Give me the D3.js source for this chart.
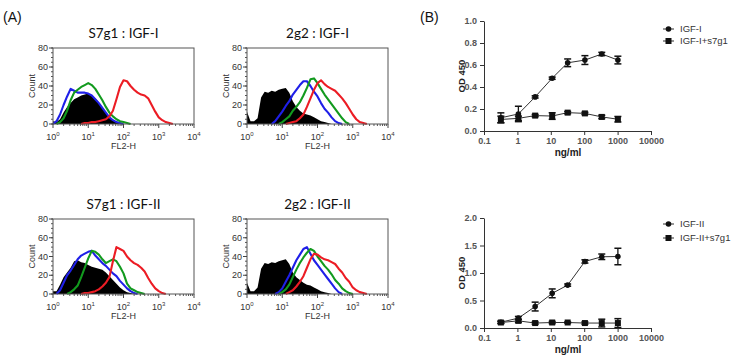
<!DOCTYPE html>
<html lang="en">
<head>
<meta charset="UTF-8">
<title>IGF binding: flow cytometry and ELISA</title>
<script src="https://d3js.org/d3.v7.min.js"></script>
<style>
  body { margin: 0; background: #fff; }
  svg { display: block; font-family: "Liberation Sans", Arial, sans-serif; }
</style>
</head>
<body>
<script>
// ---- histogram data: counts per log10(FL2-H) bin ----
const binLog = [0,0.1,0.2,0.3,0.4,0.5,0.6,0.7,0.8,0.9,1,1.1,1.2,1.3,1.4,1.5,1.6,1.7,1.8,1.9,
                2,2.1,2.2,2.3,2.4,2.5,2.6,2.7,2.8,2.9,3,3.1,3.2,3.3,3.4,3.5];

const s7g1I_black = [3,2,5,12,18,22,26,28,30,31, 32,30,27,23,18,12,7,4,2,1, 0,0,0,0,0,0,0,0,0,0, 0,0,0,0,0,0];
const s7g1I_blue  = [0,3,10,20,29,37,35,33,33,33, 32,30,26,22,17,12,7,4,2,1, 0,0,0,0,0,0,0,0,0,0, 0,0,0,0,0,0];
const s7g1I_green = [0,0,2,6,14,25,33,36,39,41, 43,41,37,31,25,18,12,8,5,3, 2,1,0,0,0,0,0,0,0,0, 0,0,0,0,0,0];
const s7g1I_red   = [0,0,0,0,0,0,0,0,0,1, 1,2,2,3,4,5,8,14,26,39, 46,45,40,36,33,31,30,27,20,13, 7,4,2,1,0,0];

const g2I_black = [13,3,3,6,28,34,33,35,34,36, 37,38,33,24,18,14,11,10,9,7, 5,3,2,1,0,0,0,0,0,0, 0,0,0,0,0,0];
const g2I_blue  = [0,0,0,0,0,0,0,0,3,8, 13,19,24,31,36,41,45,45,40,34, 29,22,16,12,7,3,1,0,0,0, 0,0,0,0,0,0];
const g2I_green = [0,0,0,0,0,0,0,0,0,0, 2,5,8,14,18,23,30,38,47,48, 43,37,31,26,21,16,11,6,2,0, 0,0,0,0,0,0];
const g2I_red   = [0,0,0,0,0,0,0,0,0,0, 0,0,1,2,3,6,10,18,27,36, 43,46,42,39,37,35,31,27,22,16, 10,5,2,1,0,0];

const s7g1II_black = [3,3,10,18,23,28,35,36,34,33, 31,29,28,27,26,23,19,15,11,7, 4,2,1,0,0,0,0,0,0,0, 0,0,0,0,0,0];
const s7g1II_blue  = [0,0,4,12,20,25,31,37,41,43, 45,46,41,37,33,30,26,22,19,14, 10,6,3,1,0,0,0,0,0,0, 0,0,0,0,0,0];
const s7g1II_green = [0,0,0,0,0,2,5,9,18,28, 38,46,45,42,37,33,35,37,35,29, 22,11,6,4,2,1,0,0,0,0, 0,0,0,0,0,0];
const s7g1II_red   = [0,0,0,0,0,0,0,0,0,1, 1,2,3,5,8,12,18,35,50,48, 46,40,36,33,31,28,24,17,11,6, 3,1,0,0,0,0];

const g2II_black = [12,3,3,7,27,33,32,34,33,35, 36,37,32,23,18,15,12,10,9,7, 5,3,2,1,0,0,0,0,0,0, 0,0,0,0,0,0];
const g2II_blue  = [0,0,0,0,0,0,0,0,0,2, 6,13,20,28,36,42,48,50,43,36, 31,26,21,16,11,6,2,0,0,0, 0,0,0,0,0,0];
const g2II_green = [0,0,0,0,0,0,0,0,0,0, 2,5,10,18,26,33,39,44,48,46, 40,35,30,26,21,15,11,6,3,1, 0,0,0,0,0,0];
const g2II_red   = [0,0,0,0,0,0,0,0,0,0, 0,0,2,4,8,13,19,28,37,43, 42,39,37,36,34,32,27,23,17,13, 7,4,2,1,0,0];

const histTitles = ["S7g1 : IGF-I", "2g2 : IGF-I", "S7g1 : IGF-II", "2g2 : IGF-II"];
const countTicks = [0, 20, 40, 60, 80];
const flTicks = [1, 10, 100, 1000, 10000];

// ---- ELISA data (panel B) ----
const doses = [0.32, 1.07, 3.4, 11, 32, 105, 336, 1020];
const igf1Mean   = [0.12, 0.155, 0.31, 0.48, 0.62, 0.645, 0.70, 0.645];
const igf1Err    = [0.045, 0.07, 0.01, 0.01, 0.035, 0.04, 0.015, 0.035];
const igf1s7Mean = [0.105, 0.115, 0.14, 0.136, 0.167, 0.16, 0.128, 0.107];
const igf1s7Err  = [0.03, 0.02, 0.01, 0.03, 0.01, 0.01, 0.015, 0.025];
const igf2Mean   = [0.105, 0.18, 0.39, 0.63, 0.78, 1.21, 1.295, 1.30];
const igf2Err    = [0.02, 0.03, 0.08, 0.08, 0.02, 0.03, 0.05, 0.15];
const igf2s7Mean = [0.10, 0.13, 0.09, 0.10, 0.10, 0.09, 0.09, 0.09];
const igf2s7Err  = [0.02, 0.03, 0.02, 0.02, 0.01, 0.02, 0.07, 0.08];
const doseTicks = [0.1, 1, 10, 100, 1000, 10000];

const width = 731, height = 358;
const svg = d3.select("body").append("svg")
    .attr("width", width)
    .attr("height", height);

const histPanels = [
    {title: histTitles[0], left: 53,  right: 194, top: 48,  bottom: 124, black: s7g1I_black,  blue: s7g1I_blue,  green: s7g1I_green,  red: s7g1I_red},
    {title: histTitles[1], left: 247, right: 388, top: 48,  bottom: 124, black: g2I_black,    blue: g2I_blue,    green: g2I_green,    red: g2I_red},
    {title: histTitles[2], left: 53,  right: 194, top: 219, bottom: 294, black: s7g1II_black, blue: s7g1II_blue, green: s7g1II_green, red: s7g1II_red},
    {title: histTitles[3], left: 247, right: 388, top: 219, bottom: 294, black: g2II_black,   blue: g2II_blue,   green: g2II_green,   red: g2II_red}
];

function drawHist(p) {
    const x = d3.scaleLog().domain([1, 10000]).range([p.left, p.right]);
    const y = d3.scaleLinear().domain([0, 80]).range([p.bottom, p.top]);
    const g = svg.append("g");
    const bx = i => x(Math.pow(10, binLog[i]));

    g.append("path")
        .datum(p.black)
        .attr("fill", "#000")
        .attr("d", d3.area().x((d, i) => bx(i)).y0(y(0)).y1(d => y(d)));

    const line = d3.line().x(d => bx(d.i)).y(d => y(d.v));
    [[p.blue, "#1f1fe8"], [p.green, "#129a1e"], [p.red, "#ec1c24"]].forEach(([vals, col]) => {
        // only the part of the curve that rises off the baseline
        let first = vals.findIndex(v => v > 0), last = vals.length - 1;
        while (vals[last] === 0) last--;
        const pts = vals.map((v, i) => ({i, v})).slice(Math.max(0, first - 1), last + 2);
        g.append("path")
            .datum(pts)
            .attr("fill", "none")
            .attr("stroke", col)
            .attr("stroke-width", 2.1)
            .attr("stroke-linejoin", "round")
            .attr("d", line);
    });

    // frame
    g.append("rect")
        .attr("x", p.left).attr("y", p.top)
        .attr("width", p.right - p.left).attr("height", p.bottom - p.top)
        .attr("fill", "none").attr("stroke", "#555").attr("stroke-width", 1);

    // y ticks
    const yMinor = d3.range(0, 81, 5);
    g.selectAll(".ymin").data(yMinor).join("line")
        .attr("x1", p.left - 2).attr("x2", p.left)
        .attr("y1", d => y(d)).attr("y2", d => y(d))
        .attr("stroke", "#555");
    g.selectAll(".ymaj").data(countTicks).join("line")
        .attr("x1", p.left - 4).attr("x2", p.left)
        .attr("y1", d => y(d)).attr("y2", d => y(d))
        .attr("stroke", "#444");
    g.selectAll(".ylab").data(countTicks).join("text")
        .attr("x", p.left - 5).attr("y", d => y(d) + 3)
        .attr("text-anchor", "end")
        .attr("font-size", 9).attr("fill", "#333")
        .text(d => d);

    // x ticks (log)
    const xMinor = [];
    flTicks.slice(0, 4).forEach(dec => { for (let k = 2; k < 10; k++) xMinor.push(dec * k); });
    g.selectAll(".xmin").data(xMinor).join("line")
        .attr("x1", d => x(d)).attr("x2", d => x(d))
        .attr("y1", p.bottom).attr("y2", p.bottom + 2)
        .attr("stroke", "#555");
    g.selectAll(".xmaj").data(flTicks).join("line")
        .attr("x1", d => x(d)).attr("x2", d => x(d))
        .attr("y1", p.bottom).attr("y2", p.bottom + 4)
        .attr("stroke", "#444");
    const xl = g.selectAll(".xlab").data(flTicks).join("text")
        .attr("x", d => x(d)).attr("y", p.bottom + 16)
        .attr("text-anchor", "middle")
        .attr("font-size", 9).attr("fill", "#333");
    xl.append("tspan").text("10");
    xl.append("tspan").attr("dy", -4).attr("font-size", 6).text(d => Math.round(Math.log10(d)));

    g.append("text")
        .attr("x", x(100)).attr("y", p.bottom + 25)
        .attr("text-anchor", "middle").attr("font-size", 9).attr("fill", "#333")
        .text("FL2-H");
    g.append("text")
        .attr("transform", `translate(${p.left - 18},${(p.top + p.bottom) / 2}) rotate(-90)`)
        .attr("text-anchor", "middle").attr("font-size", 9).attr("fill", "#333")
        .text("Count");
    g.append("text")
        .attr("x", (p.left + p.right) / 2).attr("y", p.top - 10)
        .attr("text-anchor", "middle")
        .attr("font-family", "Lato, 'Open Sans', sans-serif")
        .attr("font-size", 13.5).attr("fill", "#111")
        .text(p.title);
}

histPanels.forEach(drawHist);

// ---- panel B ----
const elisaPanels = [
    {top: 21,  bottom: 131, yMax: 1.0, yTicks: [0, 0.2, 0.4, 0.6, 0.8, 1.0],
     a: igf1Mean, aErr: igf1Err, b: igf1s7Mean, bErr: igf1s7Err,
     names: ["IGF-I", "IGF-I+s7g1"], legY: [29, 41]},
    {top: 218, bottom: 328, yMax: 2.0, yTicks: [0, 0.5, 1.0, 1.5, 2.0],
     a: igf2Mean, aErr: igf2Err, b: igf2s7Mean, bErr: igf2s7Err,
     names: ["IGF-II", "IGF-II+s7g1"], legY: [224, 238]}
];

function drawElisa(p) {
    const x = d3.scaleLog().domain([0.1, 10000]).range([484, 651]);
    const y = d3.scaleLinear().domain([0, p.yMax]).range([p.bottom, p.top]);
    const g = svg.append("g");

    const yAxis = g.append("g").attr("transform", "translate(484,0)")
        .call(d3.axisLeft(y).tickValues(p.yTicks).tickFormat(d3.format(".1f")).tickSize(4).tickSizeOuter(0));
    const xAxis = g.append("g").attr("transform", `translate(0,${p.bottom})`)
        .call(d3.axisBottom(x).tickValues(doseTicks).tickFormat(d => String(d)).tickSize(4).tickSizeOuter(0));
    [yAxis, xAxis].forEach(a => {
        a.selectAll("path, line").attr("stroke", "#333");
        a.selectAll("text").attr("font-size", 9).attr("font-weight", "bold").attr("fill", "#555")
            .attr("font-family", "'Liberation Sans', Arial, sans-serif");
    });

    g.append("text")
        .attr("transform", `translate(465,${(p.top + p.bottom) / 2}) rotate(-90)`)
        .attr("text-anchor", "middle").attr("font-size", 9.5).attr("font-weight", "bold").attr("fill", "#222")
        .text("OD 450");
    g.append("text")
        .attr("x", 568).attr("y", p.bottom + 25)
        .attr("text-anchor", "middle").attr("font-size", 10).attr("font-weight", "bold").attr("fill", "#222")
        .text("ng/ml");

    const line = d3.line().x((d, i) => x(doses[i])).y(d => y(d));
    const series = [
        {vals: p.b, err: p.bErr, shape: "square"},
        {vals: p.a, err: p.aErr, shape: "circle"}
    ];
    series.forEach(s => {
        g.append("path").datum(s.vals)
            .attr("fill", "none").attr("stroke", "#333").attr("stroke-width", 1)
            .attr("d", line);
        const eb = g.append("g").selectAll("g").data(s.vals).join("g");
        eb.append("line")
            .attr("x1", (d, i) => x(doses[i])).attr("x2", (d, i) => x(doses[i]))
            .attr("y1", (d, i) => y(d - s.err[i])).attr("y2", (d, i) => y(d + s.err[i]))
            .attr("stroke", "#111").attr("stroke-width", 1.3);
        [-1, 1].forEach(sign => {
            eb.append("line")
                .attr("x1", (d, i) => x(doses[i]) - 3.5).attr("x2", (d, i) => x(doses[i]) + 3.5)
                .attr("y1", (d, i) => y(d + sign * s.err[i])).attr("y2", (d, i) => y(d + sign * s.err[i]))
                .attr("stroke", "#111").attr("stroke-width", 1.5);
        });
        if (s.shape === "circle") {
            eb.append("circle")
                .attr("cx", (d, i) => x(doses[i])).attr("cy", d => y(d)).attr("r", 2.8)
                .attr("fill", "#111");
        } else {
            eb.append("rect")
                .attr("x", (d, i) => x(doses[i]) - 3).attr("y", d => y(d) - 3)
                .attr("width", 6).attr("height", 6).attr("fill", "#111");
        }
    });

    // legend
    p.names.forEach((name, k) => {
        const ly = p.legY[k];
        g.append("line").attr("x1", 663).attr("x2", 674).attr("y1", ly).attr("y2", ly)
            .attr("stroke", "#333");
        if (k === 0) {
            g.append("circle").attr("cx", 668.5).attr("cy", ly).attr("r", 2.8).attr("fill", "#111");
        } else {
            g.append("rect").attr("x", 665.5).attr("y", ly - 3).attr("width", 6).attr("height", 6).attr("fill", "#111");
        }
        g.append("text").attr("x", 680).attr("y", ly + 3.2)
            .attr("font-size", 9.5).attr("fill", "#333")
            .text(name);
    });
}

elisaPanels.forEach(drawElisa);

// panel letters
svg.append("text").attr("x", 3).attr("y", 22).attr("font-size", 14).attr("fill", "#111").text("(A)");
svg.append("text").attr("x", 420).attr("y", 22).attr("font-size", 14).attr("fill", "#111").text("(B)");
</script>
</body>
</html>
